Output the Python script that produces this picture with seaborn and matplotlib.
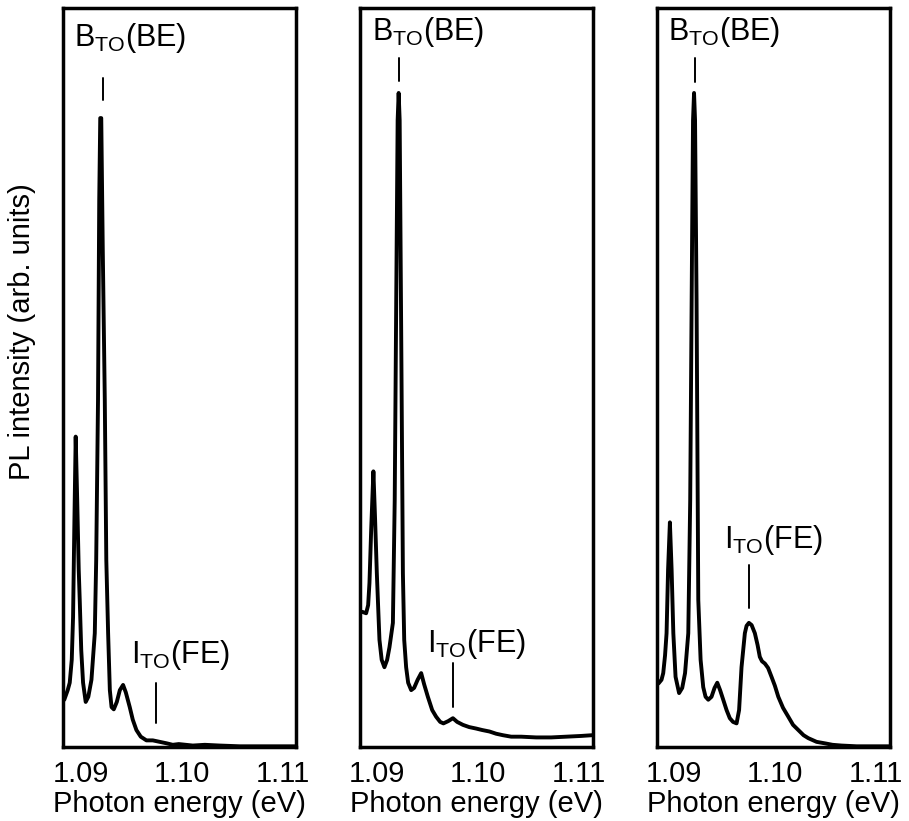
import matplotlib
matplotlib.use("Agg")
import matplotlib.pyplot as plt
import seaborn as sns

# Photoluminescence spectra, photon energy in eV, intensity in arbitrary units (0-100)
energy_a = [1.08840, 1.08874, 1.08894, 1.08914, 1.08927, 1.08939, 1.08953, 1.08968,
            1.08983, 1.08993, 1.09008, 1.09026, 1.09052, 1.09078, 1.09109, 1.09142,
            1.09156, 1.09174, 1.09186, 1.09196, 1.09206, 1.09221, 1.09241, 1.09256,
            1.09274, 1.09291, 1.09308, 1.09330, 1.09360, 1.09390, 1.09422, 1.09449,
            1.09488, 1.09518, 1.09554, 1.09597, 1.09653, 1.09716, 1.09785, 1.09854,
            1.09914, 1.09973, 1.10043, 1.10112, 1.10231, 1.10379, 1.10577, 1.10775,
            1.10973, 1.11132]
intensity_a = [6.4, 7.7, 8.7, 11.8, 17.6, 29.4, 42.0, 33.4,
               24.0, 19.9, 13.1, 8.7, 6.1, 6.8, 9.1, 15.4,
               25.3, 47.0, 74.0, 85.1, 85.1, 67.3, 47.0, 25.3,
               15.4, 7.7, 5.4, 5.1, 6.1, 7.7, 8.4, 7.4,
               5.4, 3.7, 2.3, 1.4, 0.9, 0.9, 0.7, 0.5,
               0.3, 0.4, 0.3, 0.2, 0.3, 0.2, 0.1, 0.1,
               0.1, 0.1]

energy_b = [1.08851, 1.08891, 1.08911, 1.08924, 1.08941, 1.08963, 1.08980, 1.08997,
            1.09023, 1.09045, 1.09072, 1.09099, 1.09122, 1.09156, 1.09174, 1.09189,
            1.09203, 1.09213, 1.09223, 1.09238, 1.09255, 1.09268, 1.09287, 1.09307,
            1.09337, 1.09366, 1.09401, 1.09436, 1.09465, 1.09502, 1.09545, 1.09584,
            1.09624, 1.09656, 1.09703, 1.09750, 1.09792, 1.09849, 1.09911, 1.09980,
            1.10040, 1.10112, 1.10178, 1.10245, 1.10327, 1.10426, 1.10574, 1.10723,
            1.10871, 1.11020, 1.11129]
intensity_b = [18.3, 18.1, 19.2, 22.2, 29.4, 37.3, 30.7, 23.5,
               14.5, 11.8, 10.8, 11.8, 13.5, 16.8, 33.4, 60.5,
               84.8, 88.5, 84.8, 56.4, 23.5, 14.5, 10.8, 8.7,
               7.7, 8.0, 9.1, 10.0, 8.5, 6.8, 5.0, 4.1,
               3.4, 3.2, 3.5, 3.9, 3.4, 3.0, 2.7, 2.5,
               2.3, 2.1, 1.8, 1.6, 1.4, 1.4, 1.3, 1.3,
               1.4, 1.5, 1.6]

energy_c = [1.08848, 1.08878, 1.08895, 1.08913, 1.08928, 1.08943, 1.08961, 1.08978,
            1.08995, 1.09017, 1.09052, 1.09083, 1.09111, 1.09143, 1.09162, 1.09180,
            1.09190, 1.09200, 1.09210, 1.09225, 1.09242, 1.09265, 1.09291, 1.09314,
            1.09341, 1.09373, 1.09403, 1.09430, 1.09458, 1.09489, 1.09522, 1.09554,
            1.09586, 1.09621, 1.09646, 1.09670, 1.09703, 1.09720, 1.09743, 1.09770,
            1.09802, 1.09829, 1.09851, 1.09873, 1.09901, 1.09933, 1.09967, 1.10000,
            1.10034, 1.10081, 1.10133, 1.10180, 1.10232, 1.10284, 1.10331, 1.10413,
            1.10495, 1.10571, 1.10660, 1.10809, 1.10957, 1.11146]
intensity_c = [8.6, 9.1, 10.0, 12.4, 15.4, 24.0, 30.4, 24.0,
               15.4, 9.5, 7.3, 8.0, 10.0, 15.4, 33.4, 67.3,
               84.8, 88.5, 84.8, 60.5, 19.9, 11.8, 8.1, 6.8,
               6.4, 6.8, 8.0, 8.7, 7.7, 6.4, 5.0, 3.9,
               3.4, 3.2, 5.0, 10.8, 15.4, 16.4, 16.8, 16.5,
               15.4, 13.8, 12.2, 11.6, 11.3, 10.7, 9.5, 8.3,
               6.8, 5.3, 4.1, 3.0, 2.3, 1.6, 1.2, 0.7,
               0.5, 0.3, 0.2, 0.1, 0.1, 0.1]

# Peak assignments marked on each spectrum
bound_exciton_energy = [1.09221, 1.09218, 1.09208]
free_exciton_energy = [1.09752, 1.09750, 1.09747]

tick_values = [1.09, 1.10, 1.11]
tick_labels = ["1.09", "1.10", "1.11"]
x_label = "Photon energy (eV)"
y_label = "PL intensity (arb. units)"
be_label = r"B$_\mathregular{TO}$(BE)"
fe_label = r"I$_\mathregular{TO}$(FE)"

sns.set_style("white")
plt.rcParams["font.family"] = ["Liberation Sans", "DejaVu Sans"]
plt.rcParams["mathtext.fontset"] = "custom"
plt.rcParams["mathtext.rm"] = "Liberation Sans"
plt.rcParams["text.color"] = "black"
plt.rcParams["axes.labelcolor"] = "black"
plt.rcParams["xtick.color"] = "black"

fig = plt.figure(figsize=(9.09, 8.21), dpi=100)

spectra = [(energy_a, intensity_a), (energy_b, intensity_b), (energy_c, intensity_c)]
panel_lefts = [0.0696, 0.3960, 0.7224]

# label placement (text anchor and marker span) for each panel
be_text_pos = [(1.08940, 94.8), (1.08945, 95.6), (1.08943, 95.6)]
be_mark_span = [(90.5, 87.6), (93.2, 90.1), (93.2, 90.0)]
fe_text_pos = [(1.09497, 11.4), (1.09489, 12.9), (1.09497, 26.9)]
fe_mark_span = [(8.7, 3.2), (11.4, 5.4), (24.6, 18.8)]

FS = 21
FS_NOTE = 22
for i, (energy, intensity) in enumerate(spectra):
    ax = fig.add_axes([panel_lefts[i], 0.0901, 0.2565, 0.9002])
    sns.lineplot(x=energy, y=intensity, ax=ax, color="black", linewidth=2.8,
                 estimator=None, sort=False, solid_joinstyle="round",
                 solid_capstyle="round")
    ax.set_xlim(1.08830, 1.11138)
    ax.set_ylim(0, 100)
    ax.set_yticks([])
    ax.set_xticks(tick_values)
    ax.set_xticklabels(tick_labels)
    ax.tick_params(axis="x", which="major", length=0, pad=9.5, labelsize=FS)
    ax.set_xticks([1.10], minor=True)
    ax.tick_params(axis="x", which="minor", direction="in", length=6, width=2.4,
                   top=True, bottom=True, color="black")
    for sp in ax.spines.values():
        sp.set_visible(True)
        sp.set_linewidth(2.5)
        sp.set_color("black")
    ax.set_xlabel(x_label, fontsize=FS, labelpad=1.5)
    ax.set_ylabel("")

    # bound-exciton peak marker
    bx = bound_exciton_energy[i]
    ax.plot([bx, bx], list(be_mark_span[i]), color="black", linewidth=1.4)
    ax.text(be_text_pos[i][0], be_text_pos[i][1], be_label, fontsize=FS_NOTE,
            ha="left", va="baseline")

    # free-exciton peak marker
    fx = free_exciton_energy[i]
    ax.plot([fx, fx], list(fe_mark_span[i]), color="black", linewidth=1.4)
    ax.text(fe_text_pos[i][0], fe_text_pos[i][1], fe_label, fontsize=FS_NOTE,
            ha="left", va="baseline")

    if i == 0:
        ax.set_ylabel(y_label, fontsize=FS)
        ax.yaxis.set_label_coords(-0.115, 0.5616)

fig.savefig("out.png", dpi=100, facecolor="white")
